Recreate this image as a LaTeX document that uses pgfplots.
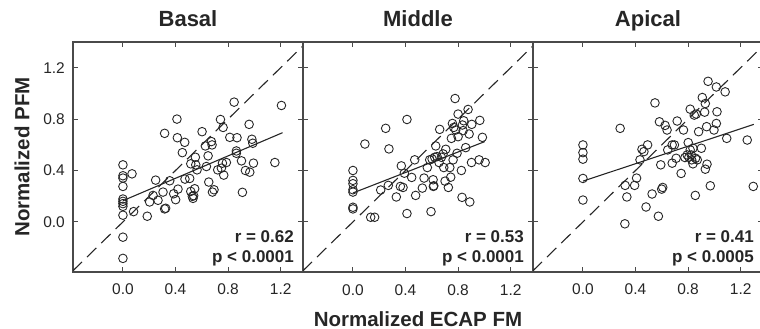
\documentclass[border=0pt]{standalone}
\usepackage{fontspec}
\setmainfont{Liberation Sans}
\usepackage{pgfplots}
\pgfplotsset{compat=1.18}
\definecolor{frame}{HTML}{4A4A4A}
\definecolor{ink}{HTML}{262626}
\tikzset{stat/.style={font=\fontsize{17}{20}\selectfont\bfseries, text=ink, anchor=base east, inner sep=0pt}}
\pgfplotsset{
  panel/.style={
    width=230pt, height=230pt, scale only axis,
    xmin=-0.38, xmax=1.37, ymin=-0.39, ymax=1.40,
    xtick={0,0.4,0.8,1.2}, ytick={0,0.4,0.8,1.2},
    tick align=inside, major tick length=5pt,
    axis line style={draw=frame, line width=1.1pt},
    tick style={draw=frame, line width=1pt},
    xticklabel style={/pgf/number format/.cd, fixed, fixed zerofill, precision=1, assume math mode=true, /tikz/.cd,
      font=\fontsize{15.5}{18}\selectfont, text=ink, anchor=base, inner sep=0pt, yshift=-23pt},
    yticklabel style={/pgf/number format/.cd, fixed, fixed zerofill, precision=1, assume math mode=true, /tikz/.cd,
      font=\fontsize{15.5}{18}\selectfont, text=ink, anchor=east, inner sep=0pt, xshift=-8pt},
    title style={font=\fontsize{22}{26}\selectfont\bfseries, text=ink, at={(axis description cs:0.5,1.04)}, anchor=base},
    clip=true,
  },
  pts/.style={only marks, mark=o, mark size=4.3pt, draw=ink, line width=0.9pt},
  reg/.style={ink, line width=1.1pt},
  diag/.style={ink, line width=1.1pt, dash pattern=on 13pt off 7pt},
}
\begin{document}
\begin{tikzpicture}
% ---------------- Basal ----------------
\begin{axis}[panel, at={(0pt,0pt)}, anchor=south west, title={Basal},
  ylabel={Normalized PFM},
  ylabel style={font=\fontsize{20.5}{24}\selectfont\bfseries, text=ink, at={(axis description cs:-0.19,0.5)}, anchor=base}]
\addplot[diag] coordinates {(-0.6,-0.6) (1.6,1.6)};
\addplot[pts] coordinates {
(0,0.444) (0,0.359) (0,0.341) (0,0.276) (0,0.178) (0,0.160) (0,0.142) (0,0.121) (0,0.052) (0,-0.119) (0,-0.284)
(0.069,0.374) (0.081,0.080) (0.185,0.044) (0.203,0.155) (0.229,0.206) (0.249,0.325) (0.267,0.168)
(0.305,0.232) (0.317,0.689) (0.317,0.101) (0.325,0.106) (0.356,0.320) (0.386,0.219) (0.401,0.173)
(0.411,0.800) (0.414,0.655) (0.419,0.255) (0.452,0.539) (0.470,0.619) (0.472,0.333) (0.508,0.338)
(0.516,0.452) (0.516,0.237) (0.528,0.199) (0.533,0.183) (0.538,0.204) (0.546,0.258) (0.551,0.503)
(0.554,0.444) (0.564,0.405) (0.602,0.702) (0.627,0.591) (0.635,0.431) (0.648,0.514) (0.653,0.310)
(0.673,0.625) (0.678,0.599) (0.681,0.232) (0.693,0.250) (0.721,0.405) (0.742,0.797) (0.749,0.418)
(0.757,0.457) (0.762,0.735) (0.767,0.364) (0.787,0.462) (0.813,0.658) (0.846,0.932) (0.863,0.552)
(0.863,0.534) (0.868,0.655) (0.902,0.475) (0.909,0.230) (0.932,0.400) (0.960,0.759) (0.965,0.387)
(0.981,0.643) (0.988,0.612) (0.993,0.457) (1.156,0.462) (1.206,0.906)
};
\addplot[reg] coordinates {(0,0.165) (1.214,0.694)};
\node[stat] at (axis description cs:0.961,0.129) {r = 0.62};
\node[stat] at (axis description cs:0.961,0.040) {p < 0.0001};
\end{axis}
% ---------------- Middle ----------------
\begin{axis}[panel, at={(230pt,0pt)}, anchor=south west, title={Middle}, yticklabels={},
  xlabel={Normalized ECAP FM},
  xlabel style={font=\fontsize{20.5}{24}\selectfont\bfseries, text=ink, at={(axis description cs:0.5,-0.2348)}, anchor=base}]
\addplot[diag] coordinates {(-0.6,-0.6) (1.6,1.6)};
\addplot[pts] coordinates {
(0,0.400) (0,0.323) (0,0.297) (0,0.250) (0,0.232) (0,0.114) (0,0.101)
(0.091,0.606) (0.135,0.036) (0.165,0.036) (0.211,0.248) (0.249,0.728) (0.269,0.284) (0.274,0.568)
(0.330,0.194) (0.361,0.276) (0.368,0.436) (0.381,0.268) (0.391,0.379) (0.411,0.797) (0.411,0.065)
(0.447,0.346) (0.470,0.483) (0.477,0.206) (0.528,0.263) (0.541,0.341) (0.566,0.423) (0.584,0.483)
(0.594,0.080) (0.602,0.490) (0.610,0.328) (0.612,0.276) (0.615,0.281) (0.622,0.503) (0.630,0.591)
(0.640,0.508) (0.655,0.462) (0.660,0.720) (0.673,0.503) (0.686,0.529) (0.691,0.423) (0.701,0.317)
(0.706,0.565) (0.726,0.268) (0.737,0.423) (0.744,0.348) (0.749,0.650) (0.757,0.766) (0.762,0.483)
(0.767,0.735) (0.777,0.960) (0.782,0.715) (0.792,0.534) (0.800,0.839) (0.800,0.663) (0.825,0.400)
(0.830,0.191) (0.833,0.754) (0.838,0.710) (0.843,0.787) (0.858,0.578) (0.876,0.875) (0.884,0.684)
(0.889,0.155) (0.902,0.462) (0.904,0.759) (0.960,0.483) (0.965,0.790) (0.985,0.658) (1.006,0.462)
};
\addplot[reg] coordinates {(0,0.225) (1.003,0.625)};
\node[stat] at (axis description cs:0.961,0.129) {r = 0.53};
\node[stat] at (axis description cs:0.961,0.040) {p < 0.0001};
\end{axis}
% ---------------- Apical ----------------
\begin{axis}[panel, at={(460pt,0pt)}, anchor=south west, title={Apical}, yticklabels={}]
\addplot[diag] coordinates {(-0.6,-0.6) (1.6,1.6)};
\addplot[pts] coordinates {
(0,0.599) (0,0.539) (0,0.488) (0,0.338) (0,0.170)
(0.283,0.728) (0.319,-0.015) (0.321,0.284) (0.334,0.194) (0.393,0.284) (0.408,0.341) (0.434,0.483)
(0.449,0.565) (0.464,0.547) (0.480,0.116) (0.492,0.599) (0.526,0.217) (0.548,0.926) (0.574,0.044)
(0.582,0.779) (0.592,0.444) (0.599,0.255) (0.607,0.268) (0.625,0.751) (0.640,0.715) (0.645,0.560)
(0.679,0.457) (0.679,0.599) (0.696,0.599) (0.709,0.495) (0.717,0.785) (0.747,0.377) (0.765,0.715)
(0.776,0.501) (0.793,0.521) (0.801,0.617) (0.806,0.503) (0.816,0.877) (0.816,0.560) (0.824,0.521)
(0.827,0.483) (0.837,0.573) (0.837,0.452) (0.847,0.831) (0.855,0.206) (0.857,0.495) (0.862,0.839)
(0.870,0.483) (0.880,0.702) (0.901,0.573) (0.908,0.968) (0.926,0.854) (0.931,0.921) (0.931,0.410)
(0.941,0.741) (0.944,0.449) (0.952,1.094) (0.969,0.281) (0.997,0.715) (1.015,1.050) (1.015,0.766)
(1.020,0.857) (1.082,1.012) (1.094,0.650) (1.250,0.637) (1.296,0.276)
};
\addplot[reg] coordinates {(0,0.317) (1.30,0.759)};
\node[stat] at (axis description cs:0.961,0.129) {r = 0.41};
\node[stat] at (axis description cs:0.961,0.040) {p < 0.0005};
\end{axis}
\pgfresetboundingbox
\path[use as bounding box] (-73pt,-57pt) rectangle (687pt,272pt);
\end{tikzpicture}
\end{document}
